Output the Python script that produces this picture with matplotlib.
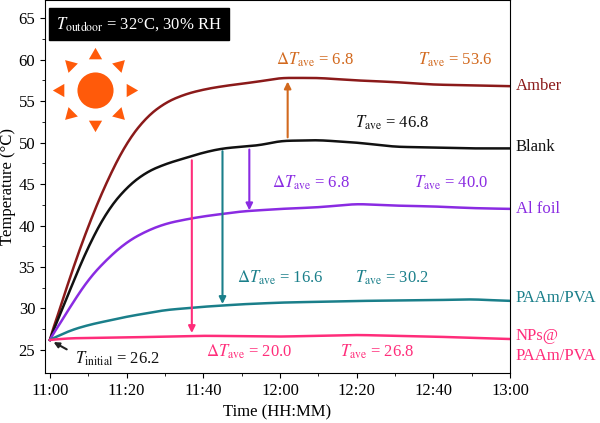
import numpy as np
import matplotlib
matplotlib.use("Agg")
import matplotlib.pyplot as plt
import matplotlib.transforms as mtransforms

plt.rcParams['font.family'] = ['Liberation Serif', 'DejaVu Serif']
plt.rcParams['mathtext.fontset'] = 'stix'

# minutes after 11:00
amber_t = [0, 5, 10, 15, 20, 25, 30, 35, 40, 45, 50, 55, 60, 70, 80, 90, 100, 110, 120]
amber_v = [26.2, 33.5, 40, 45.5, 50, 53, 54.8, 55.8, 56.4, 56.8, 57.1, 57.4, 57.8, 57.8, 57.5, 57.3, 57, 56.9, 56.8]
blank_t = [0, 5, 10, 15, 20, 25, 30, 35, 40, 45, 50, 55, 60, 70, 80, 90, 100, 110, 120]
blank_v = [26.2, 32, 37.5, 41.8, 44.6, 46.4, 47.4, 48.1, 48.8, 49.3, 49.5, 49.7, 50.2, 50.3, 50, 49.5, 49.4, 49.3, 49.3]
foil_t = [0, 5, 10, 15, 20, 25, 30, 35, 40, 45, 50, 60, 70, 80, 90, 100, 110, 120]
foil_v = [26.2, 30, 33.5, 36, 38, 39.3, 40.2, 40.7, 41.1, 41.4, 41.7, 42, 42.2, 42.6, 42.4, 42.3, 42.1, 42]
paam_t = [0, 5, 10, 20, 30, 40, 50, 60, 80, 100, 110, 120]
paam_v = [26.2, 27.3, 28, 29, 29.8, 30.2, 30.5, 30.7, 30.9, 31, 31.1, 30.9]
nps_t = [0, 5, 20, 40, 60, 80, 100, 120]
nps_v = [26.2, 26.4, 26.5, 26.7, 26.6, 26.8, 26.6, 26.3]

c_amber, c_blank, c_foil, c_paam, c_nps = '#8b1a1a', '#111111', '#8a2be2', '#1a7f8a', '#ff2d7a'
c_orange = '#d2691e'

fig = plt.figure(figsize=(6, 4.23), dpi=100)
ax = fig.add_axes([0.075, 0.118, 0.775, 0.882])

def smooth(t, v):
    x = np.linspace(0, 120, 481)
    y = np.interp(x, t, v)
    k = 21
    yp = np.pad(y, k // 2, mode='edge')
    ys = np.convolve(yp, np.ones(k) / k, mode='valid')
    w = np.clip(x / 3.0, 0, 1)
    return x, w * ys + (1 - w) * y

for t, v, c in [(amber_t, amber_v, c_amber), (blank_t, blank_v, c_blank),
                (foil_t, foil_v, c_foil), (paam_t, paam_v, c_paam), (nps_t, nps_v, c_nps)]:
    x, y = smooth(t, v)
    ax.plot(x, y, color=c, lw=1.8)

arrows = [(37, 48.2, 26.7, c_nps), (45, 49.3, 30.2, c_paam), (52, 49.5, 41.5, c_foil), (62, 50.3, 57.7, c_orange)]
for x, y0, y1, c in arrows:
    ax.annotate('', xy=(x, y1), xytext=(x, y0),
                arrowprops=dict(arrowstyle='-|>', color=c, lw=1.5, mutation_scale=10))

ax.annotate('', xy=(0.3, 26.1), xytext=(5, 24.9),
            arrowprops=dict(arrowstyle='-|>', color='#222222', lw=1.5, mutation_scale=8))

fs = 12
ax.text(6.5, 23.9, r'$T_{\mathrm{initial}}$ = 26.2', fontsize=fs, color='#111111', va='center')
ax.text(59, 60.0, r'$\Delta T_{\mathrm{ave}}$ = 6.8', fontsize=fs, color=c_orange, va='center')
ax.text(96, 60.0, r'$T_{\mathrm{ave}}$ = 53.6', fontsize=fs, color=c_orange, va='center')
ax.text(79.6, 52.4, r'$T_{\mathrm{ave}}$ = 46.8', fontsize=fs, color=c_blank, va='center')
ax.text(58, 45.1, r'$\Delta T_{\mathrm{ave}}$ = 6.8', fontsize=fs, color=c_foil, va='center')
ax.text(95, 45.1, r'$T_{\mathrm{ave}}$ = 40.0', fontsize=fs, color=c_foil, va='center')
ax.text(48.8, 33.7, r'$\Delta T_{\mathrm{ave}}$ = 16.6', fontsize=fs, color=c_paam, va='center')
ax.text(79.6, 33.7, r'$T_{\mathrm{ave}}$ = 30.2', fontsize=fs, color=c_paam, va='center')
ax.text(40.7, 24.8, r'$\Delta T_{\mathrm{ave}}$ = 20.0', fontsize=fs, color=c_nps, va='center')
ax.text(75.7, 24.8, r'$T_{\mathrm{ave}}$ = 26.8', fontsize=fs, color=c_nps, va='center')

ax.text(1.6, 64.3, r'$T_{\mathrm{outdoor}}$ = 32°C, 30% RH', fontsize=12, color='white', va='center',
        bbox=dict(boxstyle='square,pad=0.45', fc='black', ec='black'))

# right side labels
for y, s, c in [(56.8, 'Amber', c_amber), (49.5, 'Blank', c_blank), (42, 'Al foil', c_foil),
                (31.2, 'PAAm/PVA', c_paam)]:
    ax.text(1.012, y, s, transform=ax.get_yaxis_transform(), fontsize=fs, color=c, va='center')
ax.text(1.012, 25.5, 'NPs@\nPAAm/PVA', transform=ax.get_yaxis_transform(), fontsize=fs,
        color=c_nps, va='center', linespacing=1.3)

# sun
sx, sy = 11.7, 56.4
sun = '#ff5a0a'
ax.plot(sx, sy, 'o', ms=26, color=sun, mec='none')
for k in range(8):
    a = np.deg2rad(45 * k)
    off = mtransforms.offset_copy(ax.transData, fig=fig, x=25 * np.cos(a), y=25 * np.sin(a), units='points')
    ax.plot(sx, sy, marker=(3, 0, 45 * k - 90), ms=11, color=sun, mec='none', transform=off)

ax.set_xlim(-1.3, 120)
ax.set_ylim(22.2, 67.2)
ax.set_xticks(np.arange(0, 121, 20))
ax.set_xticklabels(['11:00', '11:20', '11:40', '12:00', '12:20', '12:40', '13:00'])
ax.set_xticks(np.arange(0, 121, 10), minor=True)
ax.set_yticks(np.arange(25, 66, 5))
ax.set_yticks(np.arange(25, 66, 2.5), minor=True)
ax.tick_params(labelsize=12)
ax.set_xlabel('Time (HH:MM)', fontsize=12)
ax.set_ylabel('Temperature (°C)', fontsize=12, labelpad=2)

fig.savefig('out.png', dpi=100)
